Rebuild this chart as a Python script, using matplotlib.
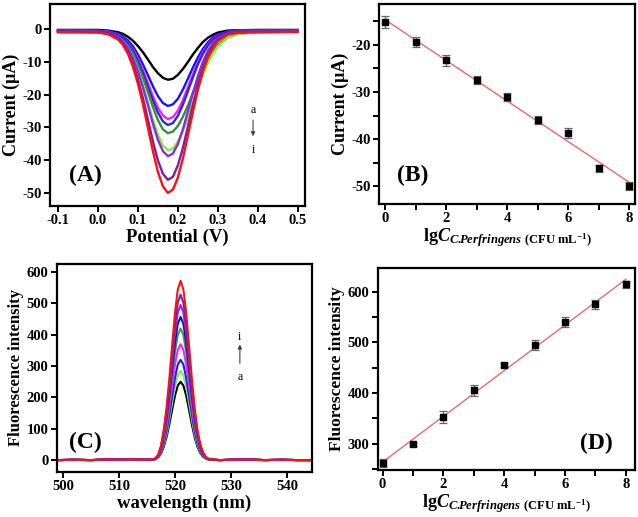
import numpy as np
import matplotlib
matplotlib.use("Agg")
import matplotlib.pyplot as plt

plt.rcParams['font.family'] = ['Liberation Serif', 'DejaVu Serif']
plt.rcParams['font.weight'] = 'bold'
plt.rcParams['axes.labelweight'] = 'bold'
plt.rcParams['mathtext.fontset'] = 'custom'
plt.rcParams['mathtext.rm'] = 'Liberation Serif:bold'
plt.rcParams['mathtext.it'] = 'Liberation Serif:bold:italic'
plt.rcParams['mathtext.bf'] = 'Liberation Serif:bold'

# ---------------- Panel A: DPV curves ----------------
potential = [-0.1, -0.05, 0.0, 0.025, 0.05, 0.0625, 0.075, 0.0875, 0.1, 0.1125,
             0.125, 0.1375, 0.15, 0.1625, 0.175, 0.1875, 0.2, 0.2125, 0.225, 0.2375,
             0.25, 0.2625, 0.275, 0.2875, 0.3, 0.325, 0.35, 0.4, 0.45, 0.5]
cur_a = [-0.3,-0.3,-0.3,-0.5,-1.0,-1.5,-2.4,-3.6,-5.2,-7.1,-9.3,-11.6,-13.5,-14.9,-15.5,-15.2,-14.0,-12.2,-10.1,-7.8,-5.8,-4.0,-2.7,-1.8,-1.1,-0.5,-0.4,-0.3,-0.3,-0.3]
cur_b = [-0.4,-0.4,-0.5,-0.7,-1.4,-2.3,-3.5,-5.3,-7.8,-10.8,-14.1,-17.5,-20.5,-22.6,-23.5,-23.0,-21.3,-18.5,-15.2,-11.8,-8.7,-6.1,-4.1,-2.6,-1.7,-0.8,-0.5,-0.4,-0.4,-0.4]
cur_c = [-0.5,-0.5,-0.6,-0.8,-1.7,-2.7,-4.2,-6.3,-9.1,-12.6,-16.5,-20.5,-24.0,-26.4,-27.5,-26.9,-24.9,-21.7,-17.8,-13.9,-10.2,-7.1,-4.8,-3.1,-2.0,-0.9,-0.6,-0.5,-0.5,-0.5]
cur_d = [-0.5,-0.5,-0.6,-0.9,-1.8,-2.8,-4.4,-6.7,-9.7,-13.4,-17.6,-21.8,-25.5,-28.2,-29.3,-28.7,-26.5,-23.1,-19.0,-14.8,-10.8,-7.6,-5.1,-3.3,-2.1,-0.9,-0.6,-0.5,-0.5,-0.5]
cur_e = [-1.0,-1.0,-1.1,-1.4,-2.4,-3.5,-5.2,-7.6,-10.9,-14.8,-19.3,-23.8,-27.8,-30.6,-31.8,-31.3,-29.6,-26.8,-23.4,-19.5,-15.7,-12.2,-9.1,-6.6,-4.8,-2.5,-1.5,-1.0,-0.9,-0.8]
cur_f = [-0.9,-0.9,-1.0,-1.3,-2.5,-3.8,-5.8,-8.6,-12.5,-17.1,-22.3,-27.7,-32.3,-35.6,-37.0,-36.5,-34.4,-31.2,-27.1,-22.6,-18.1,-14.0,-10.4,-7.5,-5.3,-2.6,-1.5,-0.9,-0.9,-0.8]
cur_g = [-0.7,-0.7,-0.8,-1.2,-2.4,-3.8,-5.8,-8.9,-12.9,-17.8,-23.3,-28.9,-33.8,-37.3,-38.8,-38.0,-35.1,-30.6,-25.2,-19.6,-14.4,-10.0,-6.7,-4.4,-2.8,-1.3,-0.8,-0.7,-0.7,-0.6]
cur_h = [-0.8,-0.8,-0.9,-1.3,-2.8,-4.4,-6.9,-10.5,-15.3,-21.1,-27.7,-34.3,-40.1,-44.2,-46.0,-45.1,-41.6,-36.3,-29.8,-23.2,-17.0,-11.9,-7.9,-5.1,-3.3,-1.5,-0.9,-0.8,-0.8,-0.8]
cur_i = [-1.0,-1.0,-1.1,-1.6,-3.2,-4.9,-7.6,-11.5,-16.7,-23.0,-30.1,-37.3,-43.6,-48.0,-50.0,-49.0,-45.3,-39.5,-32.5,-25.3,-18.6,-13.0,-8.7,-5.7,-3.7,-1.7,-1.2,-1.0,-1.0,-0.9]
dpv_curves = [cur_a, cur_b, cur_c, cur_d, cur_e, cur_f, cur_g, cur_h, cur_i]
dpv_colors = ['#000000', '#1414ff', '#ff1aff', '#2a2ad8', '#3d8a3d', '#7cf230', '#8a2be2', '#7a1f9e', '#ff1010']

# ---------------- Panel B: current calibration ----------------
lgC = [0, 1, 2, 3, 4, 5, 6, 7, 8]
cur_peak = [-15.2, -19.4, -23.3, -27.4, -31.1, -35.9, -38.7, -46.2, -50.0]
cur_err = [1.3, 1.1, 1.2, 0.8, 0.8, 0.9, 1.0, 0.7, 0.9]

# ---------------- Panel C: fluorescence spectra ----------------
wl_left = [499, 502, 505, 508, 510, 512, 514, 515]
wl_peak = [516, 516.5, 517, 517.5, 518, 518.5, 519, 519.5, 520, 520.5, 521,
           521.5, 522, 522.5, 523, 523.5, 524, 524.5, 525, 525.5, 526]
wl_right = [527, 528, 530, 533, 536, 539, 542, 544.5]
base_left = [0, 1, 0, 2, 1, 3, 1, 2]
base_right = [1, 0, 1, 2, 0, 1, 0, 0]
fl_a = [1, 3, 8, 20, 43, 74, 115, 161, 206, 238, 250, 238, 206, 161, 115, 74, 43, 23, 11, 5, 2]
fl_b = [1, 3, 9, 23, 49, 84, 131, 184, 235, 271, 285, 271, 235, 184, 131, 84, 49, 26, 13, 5, 2]
fl_c = [1, 3, 10, 26, 55, 94, 147, 206, 263, 305, 320, 305, 263, 206, 147, 94, 55, 29, 14, 6, 2]
fl_d = [1, 4, 11, 30, 64, 109, 169, 238, 305, 352, 370, 352, 305, 238, 169, 109, 64, 34, 16, 7, 3]
fl_e = [1, 4, 13, 34, 72, 124, 192, 270, 346, 400, 420, 400, 346, 270, 192, 124, 72, 38, 18, 8, 3]
fl_f = [1, 5, 14, 37, 79, 135, 209, 294, 376, 435, 457, 435, 376, 294, 209, 135, 79, 42, 20, 9, 3]
fl_g = [1, 5, 15, 40, 85, 146, 227, 319, 407, 471, 495, 471, 407, 319, 227, 146, 85, 45, 22, 9, 3]
fl_h = [2, 5, 16, 42, 91, 156, 242, 340, 435, 503, 528, 503, 435, 340, 242, 156, 91, 48, 23, 10, 4]
fl_i = [2, 6, 17, 46, 98, 169, 262, 368, 471, 545, 572, 545, 471, 368, 262, 169, 98, 52, 25, 11, 4]
fl_curves = [fl_a, fl_b, fl_c, fl_d, fl_e, fl_f, fl_g, fl_h, fl_i]
fl_colors = ['#000000', '#80f040', '#1a1aff', '#ff1aff', '#3d9a3d', '#1010b0', '#8a2be2', '#7a1f9e', '#ff1010']

# ---------------- Panel D: fluorescence calibration ----------------
fl_int = [262, 299, 352, 405, 455, 494, 540, 575, 615]
fl_err = [8, 3, 12, 11, 4, 10, 10, 9, 7]

W, H = 638, 517
fig = plt.figure(figsize=(W / 100, H / 100), dpi=100)

def px_axes(l, r, t, b):
    return fig.add_axes([l / W, (H - b) / H, (r - l) / W, (b - t) / H])

def style(ax):
    for s in ax.spines.values():
        s.set_linewidth(1.6)
    ax.tick_params(direction='out', length=4, width=1.4, labelsize=10.5, pad=2)
    ax.tick_params(which='minor', direction='out', length=2.5, width=1.2)
    ax.tick_params(top=False, right=False, which='both')
    for lab in ax.get_xticklabels() + ax.get_yticklabels():
        lab.set_fontweight('bold')

xlab_math = r'$\mathrm{lg}C_{C.\!\!Perfringens\ \mathrm{(CFU\ mL^{-1})}}$'

# Panel A
axA = px_axes(50, 305, 4, 206)
for yv, col in zip(dpv_curves, dpv_colors):
    axA.plot(potential, yv, color=col, lw=1.7)
axA.set_xlim(-0.12, 0.518)
axA.set_ylim(-54, 7.6)
axA.set_xticks([-0.1, 0.0, 0.1, 0.2, 0.3, 0.4, 0.5])
axA.set_xticklabels(['-0.1', '0.0', '0.1', '0.2', '0.3', '0.4', '0.5'])
axA.set_yticks([0, -10, -20, -30, -40, -50])
axA.set_yticklabels(['0', '-10', '-20', '-30', '-40', '-50'])
axA.set_xlabel('Potential (V)', fontsize=13.5, labelpad=1)
axA.set_ylabel('Current (μA)', fontsize=13, labelpad=2)
axA.text(0.137, 0.153, '(A)', transform=axA.transAxes, fontsize=17, fontweight='bold', ha='center', va='center')
axA.text(0.388, -24.7, 'a', fontsize=8.5, fontweight='normal', ha='center', va='center')
axA.text(0.388, -36.9, 'i', fontsize=8.5, fontweight='normal', ha='center', va='center')
axA.annotate('', xy=(0.388, -33.6), xytext=(0.388, -27.0),
             arrowprops=dict(arrowstyle='-|>', color='#444444', lw=0.8, mutation_scale=6))
style(axA)

# Panel B
axB = px_axes(379, 635, 4, 204)
xb = np.array(lgC, dtype=float)
kB = np.polyfit(xb, cur_peak, 1)
xf = np.array([xb.min(), xb.max()])
axB.plot(xf, np.polyval(kB, xf), color='#e86a6a', lw=1.0, zorder=1)
axB.errorbar(lgC, cur_peak, yerr=cur_err, fmt='s', color='black', ms=4,
             ecolor='#666666', elinewidth=0.9, capsize=3, capthick=0.9, zorder=3)
axB.set_xlim(-0.2, 8.19)
axB.set_ylim(-53.8, -11.3)
axB.set_xticks([0, 2, 4, 6, 8])
axB.set_xticks([1, 3, 5, 7], minor=True)
axB.set_yticks([-20, -30, -40, -50])
axB.set_yticklabels(['-20', '-30', '-40', '-50'])
axB.set_yticks([-15, -25, -35, -45], minor=True)
axB.set_xlabel(xlab_math, fontsize=13, labelpad=1)
axB.set_ylabel('Current (μA)', fontsize=13, labelpad=2)
axB.text(0.133, 0.145, '(B)', transform=axB.transAxes, fontsize=17, fontweight='bold', ha='center', va='center')
style(axB)
axB.tick_params(which='minor', length=4, width=1.4)

# Panel C
axC = px_axes(57, 312, 264, 472)
for yv, col in zip(fl_curves, fl_colors):
    xs = wl_left + wl_peak + wl_right
    ys = base_left + yv + base_right
    axC.plot(xs, ys, color=col, lw=1.5)
axC.set_xlim(498.9, 544.5)
axC.set_ylim(-38, 626)
axC.set_xticks([500, 510, 520, 530, 540])
axC.set_yticks([0, 100, 200, 300, 400, 500, 600])
axC.set_xlabel('wavelength (nm)', fontsize=13.5, labelpad=1)
axC.set_ylabel('Fluorescence intensity', fontsize=12, labelpad=2)
axC.text(0.11, 0.141, '(C)', transform=axC.transAxes, fontsize=17, fontweight='bold', ha='center', va='center')
axC.text(531.6, 392, 'i', fontsize=8.5, fontweight='normal', ha='center', va='center')
axC.text(531.6, 266, 'a', fontsize=8.5, fontweight='normal', ha='center', va='center')
axC.annotate('', xy=(531.6, 378), xytext=(531.6, 300),
             arrowprops=dict(arrowstyle='-|>', color='#444444', lw=0.8, mutation_scale=6))
style(axC)

# Panel D
axD = px_axes(378, 635, 268, 470)
xd = np.array(lgC, dtype=float)
kD = np.polyfit(xd, fl_int, 1)
axD.plot(xf, np.polyval(kD, xf), color='#e86a6a', lw=1.0, zorder=1)
axD.errorbar(lgC, fl_int, yerr=fl_err, fmt='s', color='black', ms=4,
             ecolor='#666666', elinewidth=0.9, capsize=3, capthick=0.9, zorder=3)
axD.set_xlim(-0.15, 8.3)
axD.set_ylim(248, 646.8)
axD.set_xticks([0, 2, 4, 6, 8])
axD.set_xticks([1, 3, 5, 7], minor=True)
axD.set_yticks([300, 400, 500, 600])
axD.set_yticks([250, 350, 450, 550], minor=True)
axD.set_xlabel(xlab_math, fontsize=13, labelpad=1)
axD.set_ylabel('Fluorescence intensity', fontsize=12.5, labelpad=2)
axD.text(0.851, 0.132, '(D)', transform=axD.transAxes, fontsize=17, fontweight='bold', ha='center', va='center')
style(axD)
axD.tick_params(which='minor', length=4, width=1.4)

fig.savefig('out.png', dpi=100)
